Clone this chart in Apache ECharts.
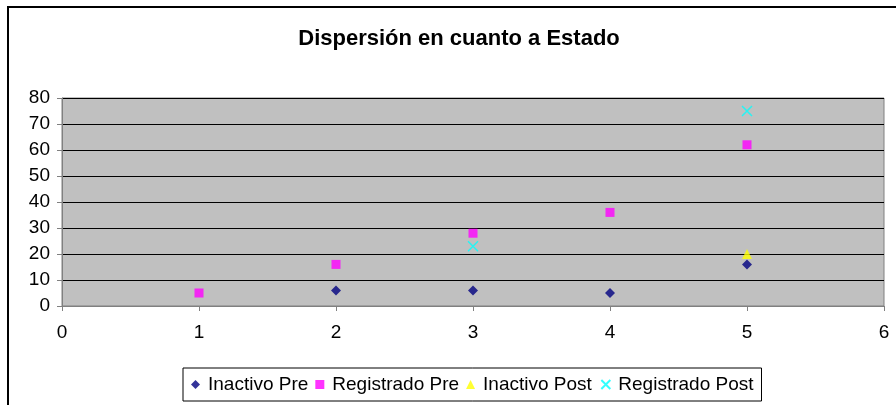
<!DOCTYPE html>
<html>
<head>
<meta charset="utf-8">
<style>
  html, body { margin: 0; padding: 0; background: #ffffff; }
  #chart { width: 896px; height: 405px; }
</style>
<script src="https://cdn.jsdelivr.net/npm/echarts@6/dist/echarts.min.js"></script>
</head>
<body>
<div id="chart"></div>
<script>
// Scatter of state counts, before and after
const titleText = 'Dispersión en cuanto a Estado';
const seriesNames = ['Inactivo Pre', 'Registrado Pre', 'Inactivo Post', 'Registrado Post'];

const inactivoPreX = [2, 3, 4, 5];
const inactivoPreY = [6, 6, 5, 16];
const registradoPreX = [1, 2, 3, 4, 5];
const registradoPreY = [5, 16, 28, 36, 62];
const inactivoPostX = [5];
const inactivoPostY = [20];
const registradoPostX = [3, 5];
const registradoPostY = [23, 75];

const xTicks = [0, 1, 2, 3, 4, 5, 6];
const yTicks = [0, 10, 20, 30, 40, 50, 60, 70, 80];

const pairs = (xs, ys) => xs.map((x, i) => [x, ys[i]]);

const font = 'Liberation Sans, Arial, sans-serif';
const crossPath = 'path://M0,0L10,10M10,0L0,10';

const chart = echarts.init(document.getElementById('chart'), null, { renderer: 'canvas' });
chart.setOption({
  animation: false,
  backgroundColor: '#ffffff',
  title: {
    text: titleText,
    left: 459,
    textAlign: 'center',
    top: 28,
    padding: 0,
    textStyle: { fontFamily: font, fontSize: 22, fontWeight: 'bold', color: '#000000' }
  },
  graphic: [{
    type: 'rect',
    shape: { x: 8, y: 7, width: 1000, height: 1000 },
    style: { fill: 'none', stroke: '#000000', lineWidth: 2 },
    silent: true,
    z: 100
  }],
  legend: {
    data: seriesNames,
    left: 183,
    top: 368,
    orient: 'horizontal',
    padding: [7, 8, 7, 8],
    itemGap: 7,
    itemWidth: 9,
    itemHeight: 9,
    backgroundColor: '#ffffff',
    borderColor: '#000000',
    borderWidth: 1,
    textStyle: { fontFamily: font, fontSize: 19, color: '#000000', padding: [0, 0, 0, 3] }
  },
  grid: {
    left: 62,
    right: 12,
    top: 98,
    bottom: 99,
    show: true,
    backgroundColor: '#c0c0c0',
    borderColor: '#808080',
    borderWidth: 1
  },
  xAxis: {
    type: 'value',
    min: xTicks[0],
    max: xTicks[xTicks.length - 1],
    interval: 1,
    splitLine: { show: false },
    axisLine: { onZero: false, lineStyle: { color: '#808080', width: 1 } },
    axisTick: { show: true, length: 5, lineStyle: { color: '#808080' } },
    axisLabel: { fontFamily: font, fontSize: 19, color: '#000000', margin: 17 }
  },
  yAxis: {
    type: 'value',
    min: yTicks[0],
    max: yTicks[yTicks.length - 1],
    interval: 10,
    splitLine: { show: true, lineStyle: { color: '#000000', width: 1 } },
    axisLine: { show: true, lineStyle: { color: '#808080', width: 1 } },
    axisTick: { show: true, length: 5, lineStyle: { color: '#808080' } },
    axisLabel: { fontFamily: font, fontSize: 19, color: '#000000', margin: 12 }
  },
  series: [
    {
      name: seriesNames[0], type: 'scatter', symbol: 'diamond', symbolSize: 10,
      itemStyle: { color: '#000080' },
      data: pairs(inactivoPreX, inactivoPreY)
    },
    {
      name: seriesNames[1], type: 'scatter', symbol: 'rect', symbolSize: 9,
      itemStyle: { color: '#ff00ff' },
      data: pairs(registradoPreX, registradoPreY)
    },
    {
      name: seriesNames[2], type: 'scatter', symbol: 'triangle', symbolSize: 10,
      itemStyle: { color: '#ffff00' },
      data: pairs(inactivoPostX, inactivoPostY)
    },
    {
      name: seriesNames[3], type: 'scatter', symbol: crossPath, symbolSize: 10,
      itemStyle: { color: 'none', borderColor: '#00ffff', borderWidth: 1.5 },
      data: pairs(registradoPostX, registradoPostY)
    }
  ]
});
</script>
</body>
</html>
